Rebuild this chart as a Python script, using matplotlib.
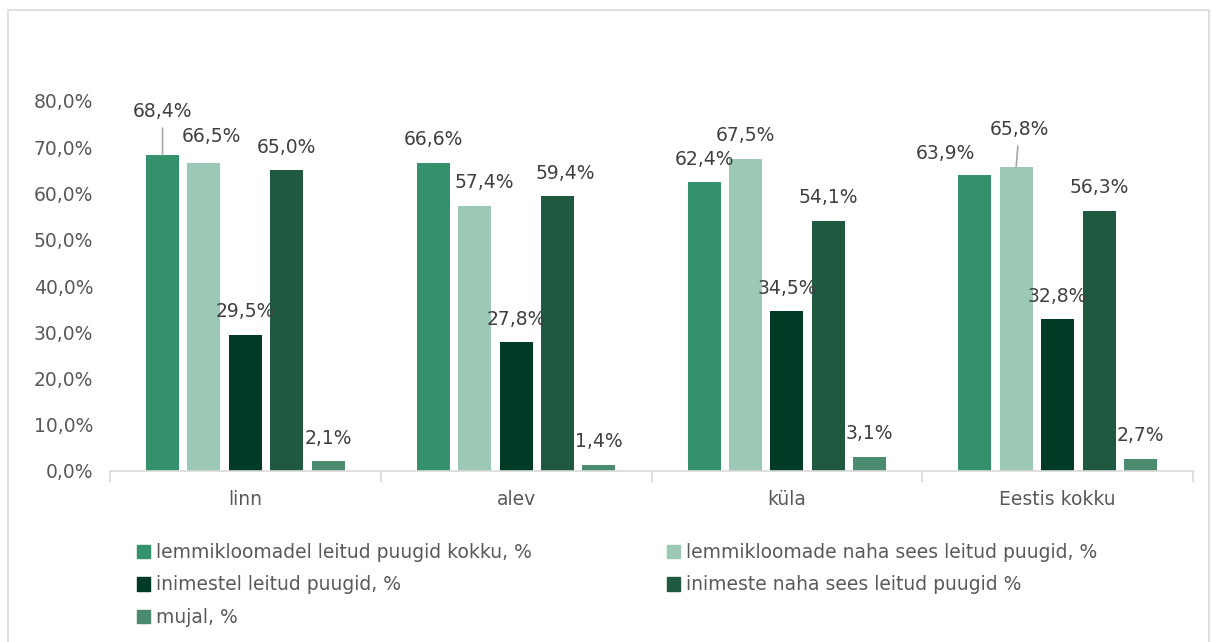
import matplotlib
matplotlib.use('Agg')
import matplotlib.pyplot as plt
from matplotlib.patches import Rectangle, Patch
import numpy as np

categories = ['linn', 'alev', 'küla', 'Eestis kokku']
series_names = [
    'lemmikloomadel leitud puugid kokku, %',
    'lemmikloomade naha sees leitud puugid, %',
    'inimestel leitud puugid, %',
    'inimeste naha sees leitud puugid %',
    'mujal, %',
]
pets_total = [68.4, 66.6, 62.4, 63.9]
pets_skin = [66.5, 57.4, 67.5, 65.8]
people_total = [29.5, 27.8, 34.5, 32.8]
people_skin = [65.0, 59.4, 54.1, 56.3]
elsewhere = [2.1, 1.4, 3.1, 2.7]
series = [pets_total, pets_skin, people_total, people_skin, elsewhere]

COLORS = ['#34916c', '#9bc9b5', '#003b25', '#1f5a40', '#4b8b6f']
TXT = '#404040'
FONT = 'DejaVu Sans'
FS = 13.5

# label offsets in pixels (dx, dy) from bar top, leader flag
label_pos = {
    (0, 0): (0, 43, True), (1, 0): (7, 27, False),
    (1, 1): (10, 23, False), (3, 1): (8, 23, False),
    (0, 3): (-29, 22, False), (1, 3): (3, 37, True),
}

W, H = 1213, 642
fig = plt.figure(figsize=(W / 100, H / 100), dpi=100)
fig.patch.set_facecolor('white')
fig.patches.append(Rectangle((8 / W, -0.01), 1201 / W, (H - 10) / H + 0.01,
                             transform=fig.transFigure, fill=False,
                             edgecolor='#d9d9d9', linewidth=1.2))

ax = fig.add_axes([110 / W, (H - 471) / H, 1083 / W, 370 / H])
x = np.arange(len(categories))
pitch = 0.153
bw = 0.122
for i, vals in enumerate(series):
    xs = x + (i - 2) * pitch
    ax.bar(xs, [v / 100 for v in vals], width=bw, color=COLORS[i], label=series_names[i])
    for j, v in enumerate(vals):
        dx, dy, leader = label_pos.get((i, j), (0, 23, False))
        lbl = f'{v:.1f}%'.replace('.', ',')
        kw = {}
        if leader:
            kw['arrowprops'] = dict(arrowstyle='-', color='#a6a6a6', lw=1.2,
                                    shrinkA=3, shrinkB=0)
        ax.annotate(lbl, xy=(xs[j], v / 100), xytext=(dx, dy),
                    textcoords='offset pixels', ha='center', va='center',
                    fontsize=FS, color=TXT, family=FONT, annotation_clip=False, **kw)

ax.set_xlim(-0.5, len(categories) - 0.5)
ax.set_ylim(0, 0.8)
ax.set_yticks(np.arange(0, 0.81, 0.1))
ax.set_yticklabels([f'{t * 100:.1f}%'.replace('.', ',') for t in np.arange(0, 0.81, 0.1)],
                   fontsize=FS, color='#595959', family=FONT)
ax.set_xticks(x)
ax.set_xticklabels(categories, fontsize=FS, color='#595959', family=FONT)
ax.set_xticks(np.arange(-0.5, len(categories), 1), minor=True)
ax.tick_params(axis='x', which='major', length=0, pad=14)
ax.tick_params(axis='x', which='minor', length=8, color='#d9d9d9', width=1.2)
ax.tick_params(axis='y', length=0, pad=12)
for s in ['top', 'right', 'left']:
    ax.spines[s].set_visible(False)
ax.spines['bottom'].set_color('#d9d9d9')
ax.spines['bottom'].set_linewidth(1.2)

# row-major order for a 2-column legend
order = [0, 2, 4, 1, 3]
handles = [Patch(color=COLORS[k]) for k in order]
leg = fig.legend(handles, [series_names[k] for k in order], ncol=2, loc='upper left',
                 bbox_to_anchor=(120 / W, (H - 526) / H), frameon=False,
                 prop={'family': FONT, 'size': FS}, labelcolor='#595959',
                 handlelength=0.72, handleheight=0.72, handletextpad=0.3,
                 columnspacing=7.2, labelspacing=0.72)

fig.savefig('out.png', dpi=100, facecolor='white')
